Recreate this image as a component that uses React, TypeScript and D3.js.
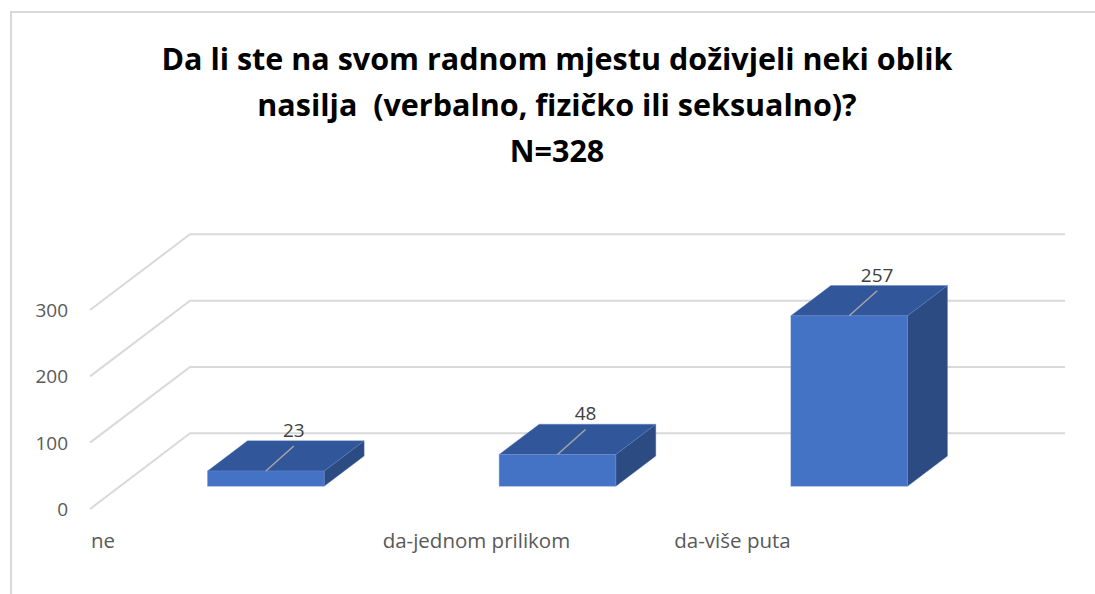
import * as d3 from "d3";

const categories = ["ne", "da-jednom prilikom", "da-više puta"];
const values = [23, 48, 257];
const yTicks = [0, 100, 200, 300];
const titleLines = [
  "Da li ste na svom radnom mjestu doživjeli neki oblik",
  "nasilja  (verbalno, fizičko ili seksualno)?",
  "N=328",
];

const WIDTH = 1095;
const HEIGHT = 594;
// front plane of the floor, and how far the back wall sits behind it
const FRONT_LEFT = 90;
const WALL_WIDTH = 875;
const FLOOR_Y = 509;
const TOP_Y = 310;
const DX = 100;
const DY = -75.7;
// bars fill the middle of the depth (gap depth 150%)
const Z0 = 0.3;
const Z1 = 0.7;

const FONT = "'Open Sans', 'DejaVu Sans', sans-serif";
const GRID = "#d9d9d9";
const FRONT = "#4472c4";
const TOP = "#31569a";
const SIDE = "#2b4b82";

const xScale = d3
  .scaleBand<string>()
  .domain(categories)
  .range([FRONT_LEFT, FRONT_LEFT + WALL_WIDTH])
  .paddingInner(0.6)
  .paddingOuter(0.3);

const yScale = d3.scaleLinear().domain([0, 300]).range([FLOOR_Y, TOP_Y]);

const pt = (x: number, v: number, z: number): [number, number] => [
  x + z * DX,
  yScale(v) + z * DY,
];

const poly = (pts: [number, number][]) =>
  "M" + pts.map((p) => p.join(",")).join("L") + "Z";

export default function App() {
  const step = xScale.step();
  const bw = xScale.bandwidth();

  return (
    <div style={{ position: "absolute", left: 0, top: 0 }}>
      <svg width={WIDTH} height={HEIGHT} style={{ display: "block", background: "#fff" }}>
        {/* chart area border, runs off the right and bottom of the picture */}
        <rect x={11} y={12} width={1100} height={600} fill="none" stroke={GRID} strokeWidth={2} />

        {/* title */}
        <text
          x={557}
          textAnchor="middle"
          fontFamily={FONT}
          fontWeight="bold"
          fontSize={30.5}
          fill="#000"
          style={{ whiteSpace: "pre" }}
        >
          {titleLines.map((t, i) => (
            <tspan key={i} x={557} y={70 + i * 46}>
              {t}
            </tspan>
          ))}
        </text>

        {/* gridlines: side wall diagonals + back wall */}
        {yTicks.map((v) => {
          const a = pt(FRONT_LEFT, v, 0);
          const b = pt(FRONT_LEFT, v, 1);
          const c = pt(FRONT_LEFT + WALL_WIDTH, v, 1);
          return (
            <path
              key={v}
              d={`M${a.join(",")}L${b.join(",")}L${c.join(",")}`}
              fill="none"
              stroke={GRID}
              strokeWidth={2}
            />
          );
        })}

        {/* y axis labels */}
        {yTicks.map((v) => (
          <text
            key={v}
            x={68}
            y={yScale(v) + 2}
            textAnchor="end"
            dominantBaseline="middle"
            fontFamily={FONT}
            fontSize={19}
            fill="#595959"
          >
            {v}
          </text>
        ))}

        {/* bars */}
        {categories.map((c, i) => {
          const x0 = xScale(c) as number;
          const x1 = x0 + bw;
          const v = values[i];
          const front = poly([pt(x0, 0, Z0), pt(x1, 0, Z0), pt(x1, v, Z0), pt(x0, v, Z0)]);
          const top = poly([pt(x0, v, Z0), pt(x1, v, Z0), pt(x1, v, Z1), pt(x0, v, Z1)]);
          const side = poly([pt(x1, 0, Z0), pt(x1, 0, Z1), pt(x1, v, Z1), pt(x1, v, Z0)]);
          const start = pt(x0 + bw / 2, v, Z0);
          const end: [number, number] = [start[0] + 28, start[1] - 25];
          return (
            <g key={c}>
              <path d={side} fill={SIDE} stroke="#5b80c4" strokeOpacity={0.35} strokeWidth={1} />
              <path d={top} fill={TOP} stroke="#5b80c4" strokeOpacity={0.35} strokeWidth={1} />
              <path d={front} fill={FRONT} stroke="#6a8fd0" strokeOpacity={0.35} strokeWidth={1} />
              <line
                x1={start[0]}
                y1={start[1]}
                x2={end[0]}
                y2={end[1]}
                stroke="#a6a6a6"
                strokeWidth={1.5}
              />
              <text
                x={end[0]}
                y={end[1] - 9}
                textAnchor="middle"
                fontFamily={FONT}
                fontSize={19}
                fill="#404040"
              >
                {v}
              </text>
            </g>
          );
        })}

        {/* category labels, left aligned at each category slot */}
        {categories.map((c) => (
          <text
            key={c}
            x={(xScale(c) as number) - step * 0.3 + 1}
            y={548}
            fontFamily={FONT}
            fontSize={20.5}
            fill="#595959"
          >
            {c}
          </text>
        ))}
      </svg>
    </div>
  );
}
